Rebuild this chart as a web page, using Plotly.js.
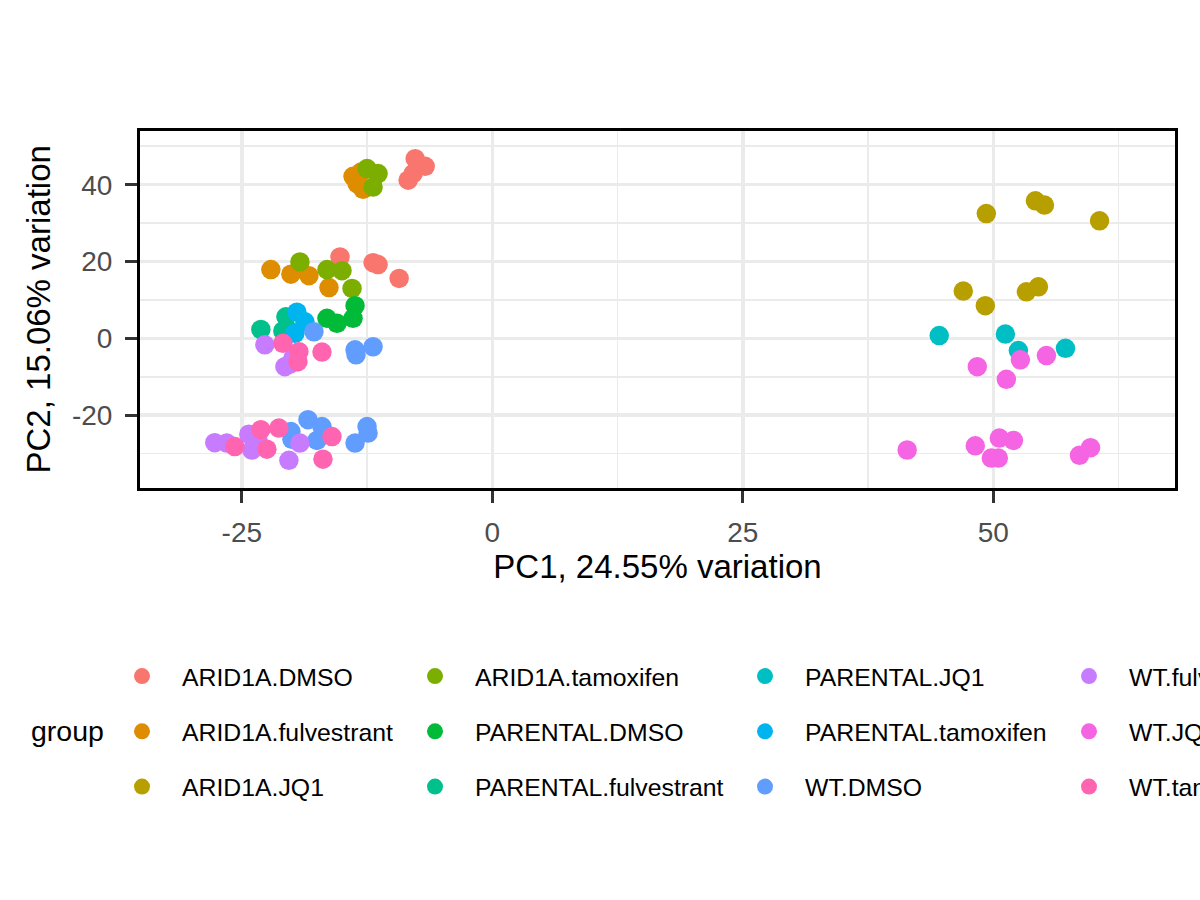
<!DOCTYPE html>
<html>
<head>
<meta charset="utf-8">
<script src="https://cdn.plot.ly/plotly-3.0.1.min.js"></script>
<style>html,body{margin:0;padding:0;background:#ffffff}#chart{width:1200px;height:900px}</style>
</head>
<body>
<div id="chart"></div>
<script>
// ---- data ----
const groupNames = ['ARID1A.DMSO','ARID1A.fulvestrant','ARID1A.JQ1','ARID1A.tamoxifen',
  'PARENTAL.DMSO','PARENTAL.fulvestrant','PARENTAL.JQ1','PARENTAL.tamoxifen',
  'WT.DMSO','WT.fulvestrant','WT.JQ1','WT.tamoxifen'];
const groupColors = ['#F8766D','#DE8C00','#B79F00','#7CAE00','#00BA38','#00C08B',
  '#00BFC4','#00B4F0','#619CFF','#C77CFF','#F564E3','#FF64B0'];

const ARID1A_DMSO_x = [-7.7,-6.7,-8.4,-7.9,-15.2,-11.9,-11.4,-9.3];
const ARID1A_DMSO_y = [46.8,44.8,41.2,42.9,21.2,19.7,19.2,15.6];
const ARID1A_fulvestrant_x = [-13.9,-13.1,-12.9,-13.5,-22.1,-20.1,-18.3,-16.3];
const ARID1A_fulvestrant_y = [42.2,43.3,38.8,40.3,17.9,16.7,16.3,13.2];
const ARID1A_JQ1_x = [49.3,54.2,55.1,60.6,47.0,49.2,53.3,54.5];
const ARID1A_JQ1_y = [32.5,35.8,34.7,30.6,12.3,8.5,12.1,13.4];
const ARID1A_tamoxifen_x = [-12.5,-11.4,-11.9,-19.2,-16.5,-15.0,-14.0];
const ARID1A_tamoxifen_y = [44.2,42.9,39.4,19.9,17.9,17.6,13.0];
const PARENTAL_DMSO_x = [-16.5,-15.5,-13.7,-13.9];
const PARENTAL_DMSO_y = [5.2,3.9,8.5,5.2];
const PARENTAL_fulvestrant_x = [-23.1,-20.6,-20.9,-20.2];
const PARENTAL_fulvestrant_y = [2.3,5.6,1.9,1.9];
const PARENTAL_JQ1_x = [44.6,51.2,52.5,57.2];
const PARENTAL_JQ1_y = [0.7,1.1,-3.2,-2.6];
const PARENTAL_tamoxifen_x = [-19.5,-18.7,-19.7];
const PARENTAL_tamoxifen_y = [6.8,4.3,1.3];
const WT_DMSO_x = [-17.8,-13.7,-11.9,-13.6,-20.1,-20.0,-18.4,-17.0,-17.5,-12.5,-13.7,-12.4];
const WT_DMSO_y = [1.7,-3.0,-2.2,-4.3,-24.3,-26.3,-21.2,-23.0,-26.6,-23.0,-27.3,-24.7];
const WT_fulvestrant_x = [-22.7,-19.9,-20.7,-20.2,-27.7,-26.5,-24.3,-24.0,-23.4,-20.3,-19.2];
const WT_fulvestrant_y = [-1.7,-5.2,-7.4,-6.7,-27.2,-27.3,-25.0,-29.1,-26.3,-31.8,-27.3];
const WT_JQ1_x = [48.4,51.3,52.7,55.3,41.4,48.2,50.6,52.0,49.8,50.5,58.6,59.7];
const WT_JQ1_y = [-7.4,-10.7,-5.6,-4.5,-29.1,-28.0,-26.0,-26.6,-31.2,-31.2,-30.5,-28.5];
const WT_tamoxifen_x = [-20.9,-19.3,-17.0,-19.4,-25.7,-23.1,-22.5,-21.3,-16.0,-16.9];
const WT_tamoxifen_y = [-1.3,-3.5,-3.6,-6.1,-28.2,-23.8,-28.9,-23.4,-25.6,-31.5];

const xTickVals = [-25, 0, 25, 50];
const xTickText = ['-25', '0', '25', '50'];
const yTickVals = [-20, 0, 20, 40];
const yTickText = ['-20', '0', '20', '40'];

const xTitle = 'PC1, 24.55% variation';
const yTitle = 'PC2, 15.06% variation';
const legendTitle = 'group';

// ---- build traces ----
const seriesX = [ARID1A_DMSO_x, ARID1A_fulvestrant_x, ARID1A_JQ1_x, ARID1A_tamoxifen_x,
  PARENTAL_DMSO_x, PARENTAL_fulvestrant_x, PARENTAL_JQ1_x, PARENTAL_tamoxifen_x,
  WT_DMSO_x, WT_fulvestrant_x, WT_JQ1_x, WT_tamoxifen_x];
const seriesY = [ARID1A_DMSO_y, ARID1A_fulvestrant_y, ARID1A_JQ1_y, ARID1A_tamoxifen_y,
  PARENTAL_DMSO_y, PARENTAL_fulvestrant_y, PARENTAL_JQ1_y, PARENTAL_tamoxifen_y,
  WT_DMSO_y, WT_fulvestrant_y, WT_JQ1_y, WT_tamoxifen_y];

const FONT = 'Liberation Sans, Arial, Helvetica, sans-serif';
const legendIds = ['legend', 'legend2', 'legend3', 'legend4'];

const traces = groupNames.map((name, i) => ({
  type: 'scatter',
  mode: 'markers',
  name: name,
  x: seriesX[i],
  y: seriesY[i],
  marker: {color: groupColors[i], size: 19.5, line: {width: 0}},
  legend: legendIds[Math.floor(i / 3)],
  legendgroup: name,
  hoverinfo: 'x+y+name'
}));

const legendLefts = [102, 395, 725, 1049];
function legendCfg(k) {
  return {
    xref: 'container', yref: 'container',
    x: legendLefts[k] / 1200, y: 1 - 653.5 / 900,
    xanchor: 'left', yanchor: 'top',
    orientation: 'v',
    traceorder: 'grouped',
    tracegroupgap: 20,
    itemwidth: 70,
    bgcolor: 'rgba(0,0,0,0)',
    borderwidth: 0,
    font: {family: FONT, size: 24.8, color: '#000000'}
  };
}

const gridCol = '#EBEBEB';
const layout = {
  width: 1200, height: 900,
  paper_bgcolor: '#ffffff', plot_bgcolor: '#ffffff',
  font: {family: FONT, color: '#000000'},
  margin: {l: 140, r: 25, t: 131, b: 412, autoexpand: false},
  showlegend: true,
  legend: legendCfg(0), legend2: legendCfg(1), legend3: legendCfg(2), legend4: legendCfg(3),
  xaxis: {
    range: [-35.16, 68.13],
    automargin: true,
    tickmode: 'array', tickvals: xTickVals, ticktext: xTickText,
    ticks: 'outside', ticklen: 12, tickwidth: 3, tickcolor: '#333333',
    ticklabelstandoff: 5,
    tickfont: {family: FONT, size: 28, color: '#4D4D4D'},
    showgrid: true, gridcolor: gridCol, gridwidth: 3.5,
    minor: {tickmode: 'array', tickvals: [-37.5, -12.5, 12.5, 37.5, 62.5], showgrid: true, gridcolor: gridCol, gridwidth: 1.8, ticks: ''},
    zeroline: false, showline: true, mirror: true, linecolor: '#000000', linewidth: 3,
    title: {text: xTitle, font: {family: FONT, size: 33, color: '#000000'}, standoff: 5}
  },
  yaxis: {
    range: [-39.0, 54.0],
    tickmode: 'array', tickvals: yTickVals, ticktext: yTickText,
    ticks: 'outside', ticklen: 12, tickwidth: 3, tickcolor: '#333333',
    ticklabelstandoff: 7,
    tickfont: {family: FONT, size: 28, color: '#4D4D4D'},
    showgrid: true, gridcolor: gridCol, gridwidth: 3.5,
    minor: {tickmode: 'array', tickvals: [-30, -10, 10, 30, 50], showgrid: true, gridcolor: gridCol, gridwidth: 1.8, ticks: ''},
    zeroline: false, showline: true, mirror: true, linecolor: '#000000', linewidth: 3,
    title: {text: ''}
  },
  annotations: [{
    text: yTitle, xref: 'paper', yref: 'paper',
    x: (38 - 140) / 1035, y: 0.5, textangle: -90,
    xanchor: 'center', yanchor: 'middle', showarrow: false,
    font: {family: FONT, size: 33, color: '#000000'}
  }, {
    text: legendTitle, xref: 'paper', yref: 'paper',
    x: (29 - 140) / 1035, y: (488.3 - 732) / 357.6,
    xanchor: 'left', yanchor: 'middle', showarrow: false,
    font: {family: FONT, size: 28.5, color: '#000000'}
  }]
};

Plotly.newPlot('chart', traces, layout, {displayModeBar: false, staticPlot: true});
</script>
</body>
</html>
